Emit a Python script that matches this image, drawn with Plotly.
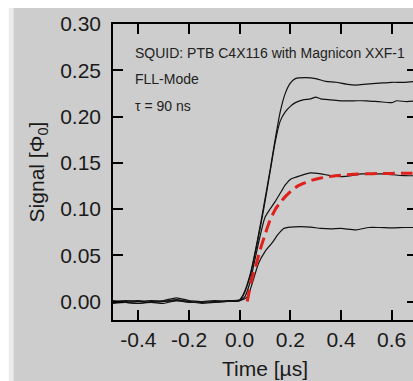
import plotly.graph_objects as go

# ---- data ----
t_a = [-0.5, -0.45, -0.4, -0.35, -0.3, -0.25, -0.2, -0.15, -0.1, -0.05, 0.0, 0.015, 0.043, 0.07, 0.095, 0.12, 0.14, 0.16, 0.18, 0.2, 0.22, 0.26, 0.3, 0.34, 0.38, 0.42, 0.46, 0.5, 0.55, 0.6, 0.65, 0.7]
y_a = [-0.001, 0.0, 0.001, -0.001, 0.0, 0.002, 0.0, -0.001, 0.0, 0.001, 0.002, 0.008, 0.031, 0.066, 0.103, 0.142, 0.175, 0.205, 0.225, 0.236, 0.241, 0.242, 0.241, 0.238, 0.237, 0.235, 0.234, 0.235, 0.236, 0.237, 0.237, 0.238]

t_b = [-0.5, -0.45, -0.4, -0.35, -0.3, -0.25, -0.2, -0.15, -0.1, -0.05, 0.0, 0.015, 0.043, 0.07, 0.095, 0.12, 0.14, 0.16, 0.18, 0.2, 0.22, 0.25, 0.28, 0.3, 0.32, 0.36, 0.4, 0.45, 0.5, 0.55, 0.6, 0.62, 0.66, 0.7]
y_b = [0.0, 0.001, 0.0, 0.001, 0.0, 0.001, -0.001, 0.0, 0.001, 0.0, 0.001, 0.007, 0.029, 0.064, 0.1, 0.14, 0.172, 0.195, 0.205, 0.211, 0.215, 0.218, 0.219, 0.221, 0.219, 0.218, 0.217, 0.217, 0.217, 0.216, 0.215, 0.217, 0.216, 0.217]

t_c = [-0.5, -0.45, -0.4, -0.35, -0.3, -0.25, -0.2, -0.15, -0.1, -0.05, 0.0, 0.02, 0.04, 0.06, 0.08, 0.1, 0.12, 0.14, 0.16, 0.18, 0.2, 0.24, 0.28, 0.32, 0.36, 0.4, 0.44, 0.48, 0.52, 0.56, 0.6, 0.65, 0.7]
y_c = [0.001, -0.001, -0.002, 0.0, 0.001, 0.004, 0.001, 0.0, -0.001, 0.0, 0.001, 0.005, 0.02, 0.045, 0.07, 0.091, 0.1, 0.108, 0.117, 0.126, 0.132, 0.136, 0.139, 0.138, 0.136, 0.135, 0.136, 0.138, 0.138, 0.138, 0.137, 0.136, 0.136]

t_d = [-0.5, -0.45, -0.4, -0.35, -0.3, -0.25, -0.2, -0.15, -0.1, -0.05, 0.0, 0.03, 0.05, 0.075, 0.1, 0.127, 0.15, 0.174, 0.2, 0.24, 0.28, 0.32, 0.36, 0.4, 0.46, 0.51, 0.55, 0.6, 0.65, 0.7]
y_d = [-0.002, -0.001, -0.002, -0.001, -0.002, 0.001, 0.0, -0.002, -0.001, 0.0, 0.001, 0.005, 0.02, 0.0415, 0.054, 0.063, 0.072, 0.079, 0.0805, 0.081, 0.0805, 0.079, 0.0785, 0.079, 0.0775, 0.08, 0.08, 0.0795, 0.08, 0.08]

t_fit = [0.03, 0.045, 0.063, 0.08, 0.102, 0.12, 0.141, 0.16, 0.18, 0.205, 0.23, 0.26, 0.29, 0.32, 0.355, 0.4, 0.45, 0.5, 0.55, 0.6, 0.655, 0.7]
y_fit = [0.0, 0.021, 0.0378, 0.055, 0.0739, 0.088, 0.0998, 0.107, 0.1134, 0.12, 0.125, 0.1285, 0.1315, 0.1335, 0.135, 0.1365, 0.1375, 0.138, 0.1383, 0.1385, 0.1387, 0.1388]

x_ticks = [-0.4, -0.2, 0.0, 0.2, 0.4, 0.6]
x_tick_labels = ["-0.4", "-0.2", "0.0", "0.2", "0.4", "0.6"]
y_ticks = [0.0, 0.05, 0.10, 0.15, 0.20, 0.25, 0.30]
y_tick_labels = ["0.00", "0.05", "0.10", "0.15", "0.20", "0.25", "0.30"]

notes = ["SQUID: PTB C4X116 with Magnicon XXF-1", "FLL-Mode", "τ = 90 ns"]
note_y = [0.2687, 0.2406, 0.2114]

GREY = "#cdcdcd"
FONT = "Liberation Sans, Arial, Helvetica, sans-serif"

fig = go.Figure()
for tt, yy in [(t_a, y_a), (t_b, y_b), (t_c, y_c), (t_d, y_d)]:
    fig.add_trace(go.Scatter(x=tt, y=yy, mode="lines", line=dict(color="#111111", width=1.2, shape="spline", smoothing=0.6), showlegend=False, hoverinfo="skip"))
fig.add_trace(go.Scatter(x=t_fit, y=y_fit, mode="lines", line=dict(color="#e0201b", width=3, dash="12px,6px", shape="spline", smoothing=0.6), showlegend=False, hoverinfo="skip"))

for txt, yv in zip(notes, note_y):
    fig.add_annotation(x=-0.42, y=yv, xref="x", yref="y", text=txt, showarrow=False,
                       xanchor="left", yanchor="middle", font=dict(family=FONT, size=14, color="#222222"))

# grey panel with white strip at top/left (plus faint shadow)
fig.add_shape(type="rect", xref="paper", yref="paper", x0=-0.343, x1=1.2, y0=-0.4, y1=1.054,
              fillcolor="#ebebeb", line=dict(width=0), layer="below")
fig.add_shape(type="rect", xref="paper", yref="paper", x0=-0.3268, x1=1.2, y0=-0.4, y1=1.054,
              fillcolor=GREY, line=dict(width=0), layer="below")

axis_common = dict(showgrid=False, zeroline=False, showline=True, linecolor="black", linewidth=1.5,
                   ticks="inside", ticklen=10, tickwidth=1.5, tickcolor="black", mirror="ticks",
                   tickfont=dict(family=FONT, size=21, color="#1a1a1a"))

fig.update_xaxes(range=[-0.5, 0.7], tickvals=x_ticks, ticktext=x_tick_labels,
                 title=dict(text="Time [µs]", font=dict(family=FONT, size=21, color="#1a1a1a"), standoff=11),
                 **axis_common)
fig.update_yaxes(range=[-0.02, 0.30], tickvals=y_ticks, ticktext=y_tick_labels,
                 title=dict(text="Signal [Φ<sub>0</sub>]", font=dict(family=FONT, size=21, color="#1a1a1a"), standoff=10),
                 ticklabelstandoff=6, **axis_common)

fig.update_layout(width=420, height=381, margin=dict(l=113, r=1, t=24, b=61, pad=0),
                  paper_bgcolor="white", plot_bgcolor=GREY)

fig.write_html("out.html", config={"displayModeBar": False},
               post_script="document.body.style.margin='0';document.body.style.overflow='hidden';")
